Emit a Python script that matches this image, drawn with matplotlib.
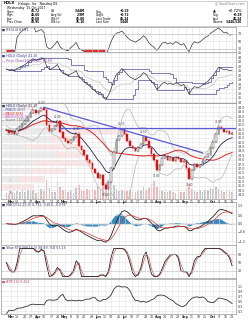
import numpy as np
import pandas as pd
import matplotlib
matplotlib.use("Agg")
import matplotlib.pyplot as plt
from matplotlib.patches import Rectangle

# closes, one bar per two trading days, Mar-Oct 2017
closes = [41.4, 41.1, 41.2, 41.0, 41.5, 41.8, 42.1, 42.4, 42.9, 43.4,
          43.7, 43.3, 43.6, 43.9, 43.7, 42.0, 41.3, 41.5, 41.9, 42.4,
          41.2, 40.5, 40.2, 39.9, 40.3, 40.6, 41.0, 39.6, 39.1, 38.5,
          38.0, 37.6, 36.9, 36.5, 35.9, 36.2, 35.1, 34.6, 35.5, 37.0,
          38.9, 40.3, 40.7, 41.5, 40.9, 40.2, 39.6, 39.3, 39.0, 39.4,
          39.8, 40.6, 40.2, 39.3, 38.6, 38.0, 36.8, 37.4, 38.2, 38.4,
          38.0, 38.2, 37.9, 38.3, 38.1, 37.7, 37.9, 37.0, 35.8, 36.8,
          37.5, 37.2, 37.4, 37.8, 38.3, 38.6, 39.4, 40.0, 40.9, 41.8,
          41.5, 41.2, 41.3, 41.0, 41.1]
volumes = [2.1, 1.8, 2.4, 2.0, 2.6, 2.2, 2.9, 2.3, 3.1, 2.5, 2.8, 2.0, 2.4, 3.3, 2.6,
           6.2, 3.5, 2.4, 2.2, 5.8, 4.0, 2.8, 3.0, 2.2, 2.5, 2.1, 3.6, 4.5, 2.9, 2.7,
           3.2, 2.8, 3.4, 3.0, 4.2, 3.1, 6.8, 5.5, 3.8, 7.5, 4.6, 3.2, 2.6, 3.0, 2.7,
           2.5, 2.9, 2.4, 2.2, 2.6, 2.8, 4.1, 3.0, 3.6, 4.9, 6.0, 3.8, 2.9, 2.6, 2.4,
           2.2, 2.5, 2.3, 2.0, 2.7, 2.4, 2.2, 3.5, 4.8, 3.3, 2.6, 2.4, 2.8, 2.2, 2.9,
           3.1, 3.7, 3.2, 4.0, 3.4, 2.6, 2.3, 2.8, 2.5, 2.2]
# trendlines drawn on the chart
trend_idx = [14, 73]
trend_val = [44.0, 38.8]
resist_start = 20
resist_level = 41.6
# peaks / troughs that carry a price label
label_idx = [13, 19, 26, 37, 43, 51, 56, 68, 79]

close = pd.Series(closes)
vol = np.array(volumes)
n = len(close)
x = np.arange(n)
days = pd.bdate_range("2017-03-01", periods=2 * n)[::2]

# indicators (2 trading days per bar)
ma_fast = close.ewm(span=10, adjust=False).mean()
ma_slow = close.rolling(25, min_periods=1).mean()
bb_mid = close.rolling(10, min_periods=1).mean()
bb_sd = close.rolling(10, min_periods=2).std().bfill()
bb_up, bb_lo = bb_mid + 2 * bb_sd, bb_mid - 2 * bb_sd
delta = close.diff().fillna(0)
gain = delta.clip(lower=0).ewm(alpha=1 / 7, adjust=False).mean()
loss = (-delta.clip(upper=0)).ewm(alpha=1 / 7, adjust=False).mean()
rsi = 100 - 100 / (1 + gain / loss.replace(0, 1e-6))
ch_hi = close.rolling(10, min_periods=1).max()
ch_lo = close.rolling(10, min_periods=1).min()
macd = close.ewm(span=6, adjust=False).mean() - close.ewm(span=13, adjust=False).mean()
signal = macd.ewm(span=5, adjust=False).mean()
hist = macd - signal
hh = close.rolling(7, min_periods=1).max()
ll = close.rolling(7, min_periods=1).min()
k_fast = 100 * (close - ll) / (hh - ll).replace(0, np.nan)
k_slow = k_fast.fillna(50).rolling(2, min_periods=1).mean()
d_slow = k_slow.rolling(2, min_periods=1).mean()
atr = delta.abs().rolling(7, min_periods=1).mean()

mondays = pd.date_range("2017-03-06", days[-1], freq="W-MON")
tick_pos = np.interp(mondays.values.astype("int64"), days.values.astype("int64"), x)
tick_lab = []
for i, d in enumerate(mondays):
    if i == 0 or d.month != mondays[i - 1].month:
        tick_lab.append(d.strftime("%b"))
    else:
        tick_lab.append(str(d.day))

FS = 2.3
GRID = "#e2e2e2"


def panel(top, bottom, labels=False):
    ax = fig.add_axes([0.004, 1 - bottom / 320, 0.948, (bottom - top) / 320])
    ax.set_xlim(-2, n + 0.5)
    ax.set_xticks(tick_pos)
    ax.grid(True, color=GRID, lw=0.4)
    ax.yaxis.tick_right()
    ax.tick_params(axis="both", labelsize=FS, length=0, pad=1, colors="#333333")
    if labels:
        ax.set_xticklabels(tick_lab)
        for t, lab in zip(ax.get_xticklabels(), tick_lab):
            if not lab.isdigit():
                t.set_fontweight("bold")
    else:
        ax.set_xticklabels([])
    for s in ax.spines.values():
        s.set_color("#9a9a9a")
        s.set_linewidth(0.5)
    return ax


fig = plt.figure(figsize=(2.48, 3.2), dpi=100)

# header box
hd = fig.add_axes([0.004, 1 - 26 / 320, 0.992, 25 / 320])
hd.set_xlim(0, 1)
hd.set_ylim(0, 1)
hd.set_xticks([])
hd.set_yticks([])
for s in hd.spines.values():
    s.set_color("#bbbbbb")
    s.set_linewidth(0.5)
hd.text(0.01, 0.9, "HOLX", fontsize=2.6, fontweight="bold", va="center")
hd.text(0.07, 0.9, "Hologic, Inc.  Nasdaq GS", fontsize=2.3, va="center")
hd.text(0.99, 0.9, "@ StockCharts.com", fontsize=2.2, ha="right", va="center", color="#777777")
hd.text(0.025, 0.74, "Wednesday  25-Oct-2017", fontsize=2.2, va="center")
rows = [("Open", "40.72", "Vol", "3.44M", "Chg", "+0.29"),
        ("High", "41.60", "Avg Vol", "2.9M", "Chg%", "+0.72"),
        ("Low", "40.60", "Wk Hi", "46.80", "Last Trade", "41.24"),
        ("Prev Close", "40.95", "Wk Lo", "35.10", "Last Size", "3,440")]
for r, row in enumerate(rows):
    yy = 0.58 - r * 0.14
    for c in range(3):
        hd.text(0.025 + c * 0.18, yy, row[2 * c], fontsize=2.1, va="center")
        hd.text(0.16 + c * 0.18, yy, row[2 * c + 1], fontsize=2.1, va="center",
                ha="right", fontweight="bold")
hd.text(0.86, 0.58, "\u25b2", fontsize=2.6, va="center")
hd.text(0.98, 0.58, "+0.72%", fontsize=2.6, va="center", ha="right")
for r, (a, b) in enumerate([("Chg", "+0.29"), ("Last", "41.24"), ("Volume", "3,440,526")]):
    hd.text(0.86, 0.44 - r * 0.14, a, fontsize=2.1, va="center")
    hd.text(0.98, 0.44 - r * 0.14, b, fontsize=2.1, va="center", ha="right", fontweight="bold")

# RSI
ax1 = panel(27, 52)
ax1.plot(x, rsi, color="#333333", lw=0.5)
ax1.axhline(70, color="#c8c8c8", lw=0.5)
ax1.axhline(30, color="#c8c8c8", lw=0.5)
ax1.fill_between(x, rsi, 30, where=rsi < 30, color="#e03030", lw=0)
ax1.set_ylim(22, 88)
ax1.set_yticks([30, 50, 70])
ax1.text(0.005, 0.97, "\u25a0 RSI(14) %.2f" % rsi.iloc[-1], transform=ax1.transAxes,
         fontsize=FS, va="top", color="#333366")

# price channel
ax2 = panel(52, 103)
ax2.step(x, ch_hi, where="post", color="#6a6aa8", lw=0.6)
ax2.step(x, ch_lo, where="post", color="#6a6aa8", lw=0.6)
ax2.plot(x, (ch_hi + ch_lo) / 2, color="#b8b8b8", lw=0.4)
ax2.plot(x, close, color="#222222", lw=0.45)
ax2.set_ylim(33.8, 45.2)
ax2.set_yticks(np.arange(34, 45.5, 1))
ax2.text(0.005, 0.97, "\u25a0 HOLX (Daily) %.2f" % closes[-1], transform=ax2.transAxes,
         fontsize=FS, va="top", color="#3333aa")
ax2.text(0.005, 0.87, "\u2014 Price Chan(20) %.2f, %.2f" % (ch_hi.iloc[-1], ch_lo.iloc[-1]),
         transform=ax2.transAxes, fontsize=FS, va="top", color="#8844aa")

# main price panel
ax3 = panel(103, 199, labels=True)
# volume on a twin axis, scale labels inside on the left
axv = ax3.twinx()
ax3.yaxis.tick_right()
ax3.set_ylim(33.5, 44.5)
ax3.set_yticks(np.arange(34, 44.5, 0.5))
axv.set_ylim(0, vol.max() * 4.2)
axv.yaxis.tick_left()
axv.set_yticks([2, 4, 6])
axv.set_yticklabels(["2M", "4M", "6M"])
axv.tick_params(axis="y", labelsize=1.9, length=0, pad=-5.5, colors="#555555")
for t in axv.get_yticklabels():
    t.set_horizontalalignment("left")
axv.set_xlim(ax3.get_xlim())
for s in axv.spines.values():
    s.set_visible(False)
ax3.set_zorder(axv.get_zorder() + 1)
ax3.patch.set_visible(False)

# volume by price
edges = np.linspace(33.5, 44.5, 13)
up = np.r_[True, np.diff(closes) >= 0]
vbp_up, _ = np.histogram(close[up], bins=edges, weights=vol[up])
vbp_dn, _ = np.histogram(close[~up], bins=edges, weights=vol[~up])
scale = 0.55 * n / (vbp_up + vbp_dn).max()
centers = (edges[:-1] + edges[1:]) / 2
hgt = (edges[1] - edges[0]) * 0.85
ax3.barh(centers, vbp_up * scale, left=-2, height=hgt, color="#e6e6e6", alpha=0.75, lw=0, zorder=1)
ax3.barh(centers, vbp_dn * scale, left=-2 + vbp_up * scale, height=hgt, color="#fbe0e0",
         alpha=0.8, lw=0, zorder=1)
axv.bar(x, vol, width=0.6, color=np.where(up, "#c4c4c4", "#f2b4b4"), lw=0)

# bands and averages
ax3.plot(x, bb_up, color="#b0b0b0", lw=0.45, zorder=3)
ax3.plot(x, bb_lo, color="#b0b0b0", lw=0.45, zorder=3)
ax3.plot(x, ma_slow, color="#dd2222", lw=0.7, zorder=4)
ax3.plot(x, ma_fast, color="#222255", lw=0.6, zorder=4)
opens = np.r_[closes[0], closes[:-1]]
cl = np.array(closes)
for i in range(n):
    col = "#222222" if cl[i] >= opens[i] else "#e01010"
    lo, hi = sorted((opens[i], cl[i]))
    face = "white" if cl[i] >= opens[i] else col
    ax3.add_patch(Rectangle((i - 0.3, lo), 0.6, max(hi - lo, 0.05), facecolor=face,
                            edgecolor=col, lw=0.3, zorder=5))
    ax3.plot([i, i], [lo - 0.12, hi + 0.12], color=col, lw=0.3, zorder=4)
ax3.plot(trend_idx, trend_val, color="#5a5ad8", lw=0.9, zorder=6)
ax3.plot([resist_start, n + 0.5], [resist_level, resist_level], color="#5a5ad8", lw=0.9, zorder=6)
for i in label_idx:
    off = 0.55 if cl[i] > 39 and i not in (56, 68, 37) else -0.65
    ax3.text(i, cl[i] + off, "%.2f" % cl[i], fontsize=1.9, ha="center", va="center",
             color="#444444", zorder=7)
ax3.text(0.005, 0.985, "\u25a0 HOLX (Daily) %.2f" % closes[-1], transform=ax3.transAxes,
         fontsize=FS, va="top", color="#333366", zorder=8)
legend_rows = [("\u2014 EMA(20) %.2f" % ma_fast.iloc[-1], "#3333aa"),
               ("\u2014 MA(50) %.2f" % ma_slow.iloc[-1], "#dd2222"),
               ("\u2014 BB(20,2.0) %.2f" % bb_up.iloc[-1], "#cc44cc"),
               ("\u2014 Volume 3,440,526", "#555555")]
for r, (t, c) in enumerate(legend_rows):
    ax3.text(0.005, 0.945 - r * 0.035, t, transform=ax3.transAxes, fontsize=1.9,
             va="top", color=c, zorder=8)

# MACD
ax4 = panel(202, 245)
ax4.fill_between(x, hist, 0, color="#3a8cc0", lw=0)
ax4.plot(x, macd, color="#222222", lw=0.6)
ax4.plot(x, signal, color="#dd3333", lw=0.5)
ax4.axhline(0, color="#aaaaaa", lw=0.3)
lim = np.abs(macd).max() * 1.15
ax4.set_ylim(-lim, lim)
ax4.set_yticks(np.round(np.linspace(-lim * 0.8, lim * 0.8, 5), 1))
ax4.text(0.005, 0.97, "\u25a0 MACD(12,26,9) %.3f, %.3f, %.3f" % (macd.iloc[-1], signal.iloc[-1], hist.iloc[-1]),
         transform=ax4.transAxes, fontsize=FS, va="top", color="#333366")

# slow stochastic
ax5 = panel(245, 278)
ax5.plot(x, d_slow, color="#dd4444", lw=0.45)
ax5.plot(x, k_slow, color="#222222", lw=0.6)
ax5.axhline(80, color="#c8c8c8", lw=0.4)
ax5.axhline(20, color="#c8c8c8", lw=0.4)
ax5.set_ylim(-5, 112)
ax5.set_yticks([20, 50, 80])
ax5.text(0.005, 0.97, "\u25a0 Slow STO %%K(14,3) %.2f, %%D %.2f" % (k_slow.iloc[-1], d_slow.iloc[-1]),
         transform=ax5.transAxes, fontsize=FS, va="top", color="#333366")

# ATR
ax6 = panel(279, 314, labels=True)
ax6.plot(x, atr, color="#333333", lw=0.6)
ax6.set_ylim(0, atr.max() * 1.25)
ax6.set_yticks(np.round(np.linspace(0.1, atr.max(), 6), 1))
ax6.text(0.005, 0.97, "\u25a0 ATR(14) %.3f" % atr.iloc[-1], transform=ax6.transAxes,
         fontsize=FS, va="top", color="#cc4466")

fig.savefig("out.png", dpi=100)
